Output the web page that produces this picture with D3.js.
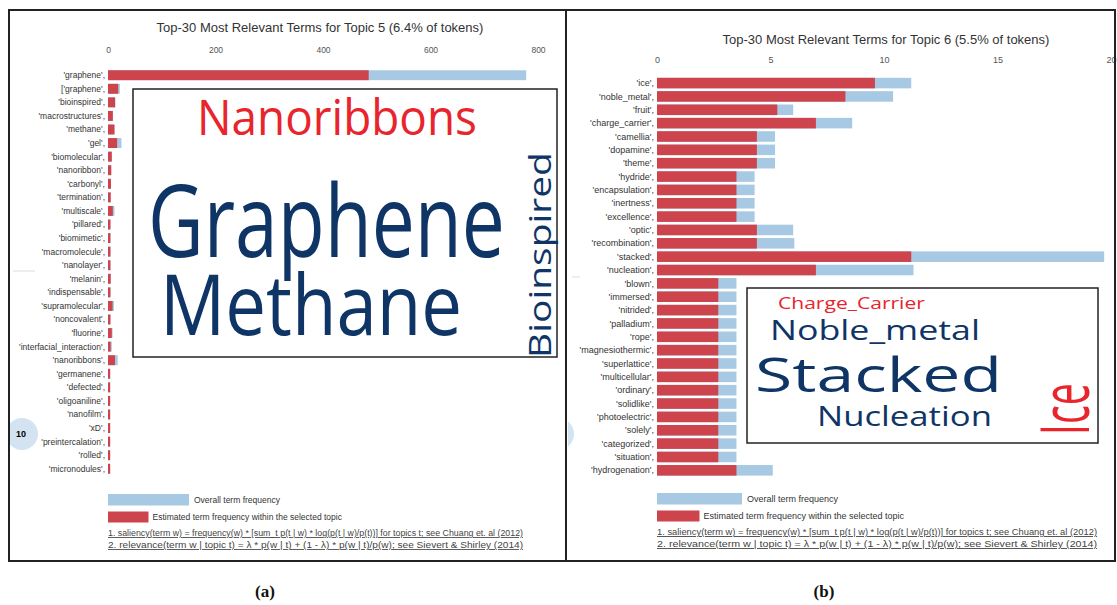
<!DOCTYPE html>
<html>
<head>
<meta charset="utf-8">
<script src="https://cdn.jsdelivr.net/npm/d3@7"></script>
<style>
  body { margin: 0; background: #fff; }
  svg { display: block; }
</style>
</head>
<body>
<svg id="chart" width="1117" height="605"></svg>
<script>
// ---- data: panel (a), topic 5 ----
const termsA = ["'graphene',", "['graphene',", "'bioinspired',", "'macrostructures',", "'methane',", "'gel',",
    "'biomolecular',", "'nanoribbon',", "'carbonyl',", "'termination',", "'multiscale',", "'pillared',",
    "'biomimetic',", "'macromolecule',", "'nanolayer',", "'melanin',", "'indispensable',", "'supramolecular',",
    "'noncovalent',", "'fluorine',", "'interfacial_interaction',", "'nanoribbons',", "'germanene',", "'defected',",
    "'oligoaniline',", "'nanofilm',", "'xD',", "'preintercalation',", "'rolled',", "'micronodules',"];
const topicA   = [485, 19, 13, 9, 12, 17, 7, 6, 5.5, 5, 9, 4.5, 4.5, 4.5, 4.5, 5, 4.5, 8.5, 4.5, 7, 5, 13, 4, 4, 4, 4, 4, 4, 4, 4];
const overallA = [778, 22, 14, 9, 12, 25, 7, 6, 5.5, 5, 12, 4.5, 4.5, 4.5, 4.5, 5, 4.5, 11, 4.5, 8.5, 7, 18, 4, 4, 4, 4, 4, 4, 4, 4];
const ticksA = [0, 200, 400, 600, 800];

// ---- data: panel (b), topic 6 ----
const termsB = ["'ice',", "'noble_metal',", "'fruit',", "'charge_carrier',", "'camellia',", "'dopamine',", "'theme',",
    "'hydride',", "'encapsulation',", "'inertness',", "'excellence',", "'optic',", "'recombination',", "'stacked',",
    "'nucleation',", "'blown',", "'immersed',", "'nitrided',", "'palladium',", "'rope',", "'magnesiothermic',",
    "'superlattice',", "'multicellular',", "'ordinary',", "'solidlike',", "'photoelectric',", "'solely',",
    "'categorized',", "'situation',", "'hydrogenation',"];
const topicB   = [9.6, 8.3, 5.3, 7.0, 4.4, 4.4, 4.4, 3.5, 3.5, 3.5, 3.5, 4.4, 4.4, 11.2, 7.0,
    2.7, 2.7, 2.7, 2.7, 2.7, 2.7, 2.7, 2.7, 2.7, 2.7, 2.7, 2.7, 2.7, 2.7, 3.5];
const overallB = [11.2, 10.4, 6.0, 8.6, 5.2, 5.2, 5.2, 4.3, 4.3, 4.3, 4.3, 6.0, 6.05, 19.7, 11.3,
    3.5, 3.5, 3.5, 3.5, 3.5, 3.5, 3.5, 3.5, 3.5, 3.5, 3.5, 3.5, 3.5, 3.5, 5.1];
const ticksB = [0, 5, 10, 15, 20];

const titles = ["Top-30 Most Relevant Terms for Topic 5 (6.4% of tokens)",
                "Top-30 Most Relevant Terms for Topic 6 (5.5% of tokens)"];
const legendLabels = ["Overall term frequency", "Estimated term frequency within the selected topic"];
const notes = ["1. saliency(term w) = frequency(w) * [sum_t p(t | w) * log(p(t | w)/p(t))] for topics t; see Chuang et. al (2012)",
               "2. relevance(term w | topic t) = \u03bb * p(w | t) + (1 - \u03bb) * p(w | t)/p(w); see Sievert & Shirley (2014)"];
const wordsA = ["Nanoribbons", "Graphene", "Methane", "Bioinspired"];
const wordsB = ["Charge_Carrier", "Noble_metal", "Stacked", "Nucleation", "Ice"];
const captions = ["(a)", "(b)"];

const RED = '#cd444d', BLUE = '#a7c9e3';
const WRED = '#e8242c', NAVY = '#0f3567';

const svg = d3.select('#chart');

function drawPanel(o) {
    const g = svg.append('g');
    const x = d3.scaleLinear().domain(o.domain).range(o.xRange);
    const y = d3.scaleBand().domain(o.terms).range(o.yRange).padding(o.pad);

    g.append('text')
        .attr('x', o.titleX).attr('y', o.titleY)
        .attr('text-anchor', 'middle')
        .style('font', '13px "Liberation Sans", Arial, sans-serif')
        .style('fill', '#333')
        .text(o.title);

    const ax = g.append('g')
        .attr('transform', `translate(0,${o.tickY})`)
        .call(d3.axisTop(x).tickValues(o.ticks).tickSize(0).tickPadding(0));
    ax.select('.domain').remove();
    ax.selectAll('text')
        .style('font', `${o.fs}px "Liberation Sans", Arial, sans-serif`)
        .style('fill', '#555');

    const rows = o.terms.map((t, i) => ({ term: t, topic: o.topic[i], overall: o.overall[i] }));

    g.append('g').selectAll('rect')
        .data(rows).join('rect')
        .attr('x', x(0))
        .attr('y', d => y(d.term))
        .attr('width', d => x(d.overall) - x(0))
        .attr('height', y.bandwidth())
        .attr('fill', BLUE);

    g.append('g').selectAll('rect')
        .data(rows).join('rect')
        .attr('x', x(0))
        .attr('y', d => y(d.term))
        .attr('width', d => x(d.topic) - x(0))
        .attr('height', y.bandwidth())
        .attr('fill', RED);

    g.append('g').selectAll('text')
        .data(rows).join('text')
        .attr('x', x(0) - 3)
        .attr('y', d => y(d.term) + y.bandwidth() / 2)
        .attr('dy', '0.35em')
        .attr('text-anchor', 'end')
        .style('font', `${o.fs}px "Liberation Sans", Arial, sans-serif`)
        .style('fill', '#333')
        .text(d => d.term);

    // legend
    const lx = x(0);
    g.append('rect').attr('x', lx).attr('y', o.legY).attr('width', o.legW).attr('height', 11.5).attr('fill', BLUE);
    g.append('rect').attr('x', lx).attr('y', o.legY + 17.5).attr('width', o.legW * 0.5).attr('height', 11).attr('fill', RED);
    g.append('text').attr('x', lx + o.legW + 5).attr('y', o.legY + 6).attr('dy', '0.35em')
        .style('font', `${o.fs}px "Liberation Sans", Arial, sans-serif`).style('fill', '#333').text(legendLabels[0]);
    g.append('text').attr('x', lx + o.legW * 0.5 + 4).attr('y', o.legY + 23).attr('dy', '0.35em')
        .style('font', `${o.fs}px "Liberation Sans", Arial, sans-serif`).style('fill', '#333').text(legendLabels[1]);

    notes.forEach((n, i) => {
        g.append('text')
            .attr('x', lx).attr('y', o.legY + 42 + i * 12)
            .attr('textLength', o.noteW).attr('lengthAdjust', 'spacingAndGlyphs')
            .style('font', `${o.fs}px "Liberation Sans", Arial, sans-serif`)
            .style('fill', '#444')
            .style('text-decoration', 'underline')
            .text(n);
    });
    return g;
}

drawPanel({
    terms: termsA, topic: topicA, overall: overallA, ticks: ticksA,
    domain: [0, 800], xRange: [108, 538], yRange: [66.6, 477.4], pad: 0.27,
    title: titles[0], titleX: 320, titleY: 32, tickY: 53, fs: 8.5,
    legY: 494, legW: 81, noteW: 415
});
drawPanel({
    terms: termsB, topic: topicB, overall: overallB, ticks: ticksB,
    domain: [0, 20], xRange: [657, 1111], yRange: [75, 478.4], pad: 0.21,
    title: titles[1], titleX: 886, titleY: 44, tickY: 63, fs: 9,
    legY: 493, legW: 85, noteW: 440
});

// word cloud words: natural width is measured, then squeezed horizontally to the target length
function word(g, txt, xL, base, size, len, color, rot) {
    const t = g.append('text')
        .style('font', `${size}px "Open Sans", "Noto Sans", sans-serif`)
        .style('fill', color)
        .text(txt);
    const w = t.node().getComputedTextLength();
    const sx = len / w;
    t.attr('transform', `translate(${xL},${base})${rot ? ' rotate(-90)' : ''} scale(${sx},1)`);
}

const cloudA = svg.append('g');
cloudA.append('rect').attr('x', 133).attr('y', 89).attr('width', 424).attr('height', 268)
    .attr('fill', '#fff').attr('stroke', '#222').attr('stroke-width', 1.5);
word(cloudA, wordsA[0], 197, 135, 49, 280, WRED);
word(cloudA, wordsA[1], 148, 257, 100, 357, NAVY);
word(cloudA, wordsA[2], 160, 335, 84, 302, NAVY);
word(cloudA, wordsA[3], 551, 358, 31, 206, NAVY, true);

const cloudB = svg.append('g');
cloudB.append('rect').attr('x', 747).attr('y', 288).attr('width', 351).attr('height', 155)
    .attr('fill', '#fff').attr('stroke', '#222').attr('stroke-width', 1.5);
word(cloudB, wordsB[0], 778, 309, 16, 147, WRED);
word(cloudB, wordsB[1], 770, 340, 27, 210, NAVY);
word(cloudB, wordsB[2], 755, 392, 47, 247, NAVY);
word(cloudB, wordsB[3], 817, 426, 27, 175, NAVY);
word(cloudB, wordsB[4], 1089, 435, 67, 52, WRED, true);

// topic bubbles peeking from the left edge
const clipA = svg.append('clipPath').attr('id', 'clipA');
clipA.append('rect').attr('x', 10).attr('y', 0).attr('width', 556).attr('height', 560);
svg.append('circle').attr('cx', 22).attr('cy', 434).attr('r', 16).attr('fill', '#d3e3f1')
    .attr('clip-path', 'url(#clipA)');
svg.append('text').attr('x', 21).attr('y', 434).attr('dy', '0.35em').attr('text-anchor', 'middle')
    .style('font', 'bold 9px "Liberation Sans", Arial, sans-serif').text('10');
const clipB = svg.append('clipPath').attr('id', 'clipB');
clipB.append('rect').attr('x', 568).attr('y', 0).attr('width', 540).attr('height', 560);
svg.append('circle').attr('cx', 558).attr('cy', 434).attr('r', 16).attr('fill', '#d3e3f1')
    .attr('clip-path', 'url(#clipB)');
svg.append('line').attr('x1', 13).attr('x2', 35).attr('y1', 271).attr('y2', 271).attr('stroke', '#ddd');
svg.append('line').attr('x1', 572).attr('x2', 580).attr('y1', 277).attr('y2', 277).attr('stroke', '#ddd');

// frame
const frame = svg.append('g').attr('stroke', '#222').attr('stroke-width', 2).attr('fill', 'none');
frame.append('path').attr('d', 'M9,10H1115V561H9Z');
frame.append('line').attr('x1', 566).attr('x2', 566).attr('y1', 10).attr('y2', 561);

// panel captions
svg.selectAll('text.cap').data(captions).join('text')
    .attr('class', 'cap')
    .attr('x', (d, i) => [265, 824][i]).attr('y', 597)
    .attr('text-anchor', 'middle')
    .style('font', 'bold 17px "Liberation Serif", "DejaVu Serif", serif')
    .style('fill', '#111')
    .text(d => d);
</script>
</body>
</html>
